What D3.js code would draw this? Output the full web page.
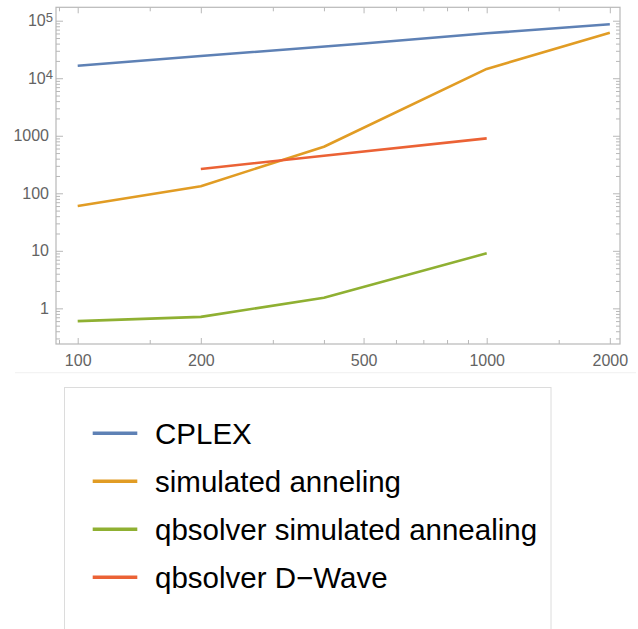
<!DOCTYPE html>
<html><head><meta charset="utf-8">
<script src="https://cdn.jsdelivr.net/npm/d3@7"></script>
<style>
html,body{margin:0;padding:0;background:#fff;}
svg{display:block;font-family:"Liberation Sans",Arial,sans-serif;}
</style></head>
<body>
<svg id="chart" width="638" height="629"></svg>
<script>
// Data
const seriesNames = ["CPLEX", "simulated anneling", "qbsolver simulated annealing", "qbsolver D\u2212Wave"];
const seriesColors = ["#5E81B5", "#E19C24", "#8FB032", "#EB6235"];
const cplexX = [100, 200, 500, 1000, 2000];
const cplexY = [16500, 24300, 40100, 60400, 86500];
const saX = [100, 200, 400, 1000, 2000];
const saY = [60, 133, 644, 14500, 61800];
const qbsaX = [100, 200, 400, 1000];
const qbsaY = [0.6, 0.71, 1.53, 9.05];
const dwaveX = [200, 400, 1000];
const dwaveY = [265, 448, 900];
const xMajorTicks = [100, 200, 500, 1000, 2000];
const xMinorTicks = [90, 150, 300, 400, 600, 700, 800, 900, 1500];
const yMajorTicks = [1, 10, 100, 1000, 10000, 100000];

const allSeries = [
  {x: cplexX, y: cplexY},
  {x: saX, y: saY},
  {x: qbsaX, y: qbsaY},
  {x: dwaveX, y: dwaveY}
];

const svg = d3.select("#chart");
const L = 56, R = 620, T = 7.3, B = 344;
const x = d3.scaleLog().domain([88.5, 2118]).range([L, R]);
const y = d3.scaleLog().domain([0.24, 1.71e5]).range([B, T]);

const frameColor = "#b8b8b8";
const labelColor = "#636363";

// y minor ticks
const yMinorTicks = [];
for (let e = -1; e <= 5; e++) {
  for (let m = 2; m <= 9; m++) {
    const v = m * Math.pow(10, e);
    if (v > 0.24 && v < 1.71e5) yMinorTicks.push(v);
  }
}

function styleAxis(g) {
  g.select(".domain").remove();
  g.selectAll(".tick line").attr("stroke", frameColor).attr("stroke-width", 1);
  g.selectAll(".tick text").attr("fill", labelColor).attr("font-size", 16)
    .attr("font-family", "Liberation Sans, Arial, sans-serif");
}

// Bottom axis
svg.append("g").attr("transform", `translate(0,${B})`)
  .call(d3.axisBottom(x).tickValues(xMajorTicks).tickFormat(d3.format("d")).tickSize(-6).tickPadding(11))
  .call(styleAxis);
svg.append("g").attr("transform", `translate(0,${B})`)
  .call(d3.axisBottom(x).tickValues(xMinorTicks).tickFormat("").tickSize(-4))
  .call(styleAxis);
// Top axis (mirror)
svg.append("g").attr("transform", `translate(0,${T})`)
  .call(d3.axisTop(x).tickValues(xMajorTicks).tickFormat("").tickSize(-6))
  .call(styleAxis);
svg.append("g").attr("transform", `translate(0,${T})`)
  .call(d3.axisTop(x).tickValues(xMinorTicks).tickFormat("").tickSize(-4))
  .call(styleAxis);

// Left axis
const yLeft = svg.append("g").attr("transform", `translate(${L},0)`)
  .call(d3.axisLeft(y).tickValues(yMajorTicks).tickFormat(d => d >= 10000 ? "" : d3.format("d")(d)).tickSize(-7).tickPadding(7))
  .call(styleAxis);
yLeft.selectAll(".tick text").each(function(d) {
  if (d >= 10000) {
    const t = d3.select(this);
    t.text(null).attr("x", -3);
    t.append("tspan").text("10");
    t.append("tspan").attr("font-size", 13).attr("dy", "-0.35em").text(String(Math.round(Math.log10(d))));
  }
});
svg.append("g").attr("transform", `translate(${L},0)`)
  .call(d3.axisLeft(y).tickValues(yMinorTicks).tickFormat("").tickSize(-4))
  .call(styleAxis);
// Right axis (mirror)
svg.append("g").attr("transform", `translate(${R},0)`)
  .call(d3.axisRight(y).tickValues(yMajorTicks).tickFormat("").tickSize(-7))
  .call(styleAxis);
svg.append("g").attr("transform", `translate(${R},0)`)
  .call(d3.axisRight(y).tickValues(yMinorTicks).tickFormat("").tickSize(-4))
  .call(styleAxis);

// Frame
svg.append("rect").attr("x", L).attr("y", T).attr("width", R - L).attr("height", B - T)
  .attr("fill", "none").attr("stroke", frameColor).attr("stroke-width", 1.2);

// Lines
const line = d3.line().x(d => x(d[0])).y(d => y(d[1]));
allSeries.forEach((s, i) => {
  const pts = s.x.map((xv, j) => [xv, s.y[j]]);
  svg.append("path").datum(pts).attr("d", line)
    .attr("fill", "none").attr("stroke", seriesColors[i]).attr("stroke-width", 2.6)
    .attr("stroke-linejoin", "round");
});

// faint separator
svg.append("line").attr("x1", 15).attr("x2", 636).attr("y1", 372.7).attr("y2", 372.7)
  .attr("stroke", "#f0f0f0").attr("stroke-width", 1);

// Legend
svg.append("rect").attr("x", 64.5).attr("y", 387.5).attr("width", 486.5).attr("height", 260)
  .attr("fill", "#fff").attr("stroke", "#dcdcdc").attr("stroke-width", 1);
const legY0 = 433.3, legDy = 48;
const leg = svg.append("g");
seriesNames.forEach((name, i) => {
  const yy = legY0 + i * legDy;
  leg.append("line").attr("x1", 92.7).attr("x2", 137.3).attr("y1", yy).attr("y2", yy)
    .attr("stroke", seriesColors[i]).attr("stroke-width", 3.5);
  leg.append("text").attr("x", 155).attr("y", yy + 10.8).attr("font-size", 29.5)
    .attr("fill", "#000").text(name);
});
</script>
</body></html>
